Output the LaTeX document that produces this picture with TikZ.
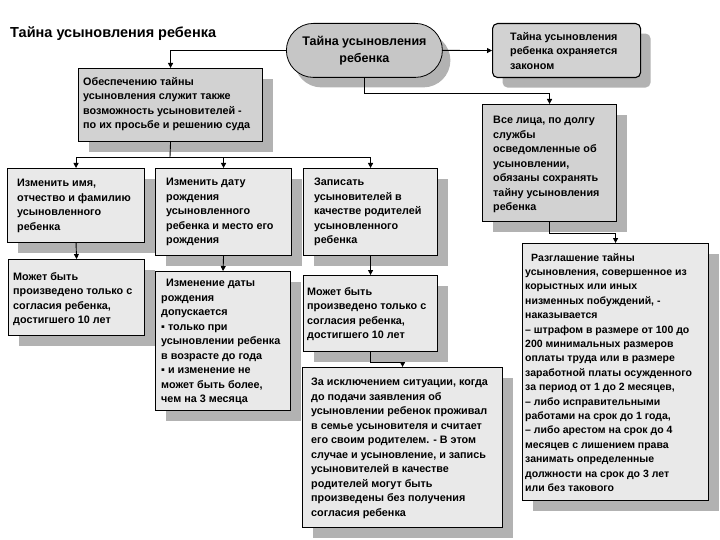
\documentclass[tikz,border=0pt]{standalone}
\usepackage{fontspec}
\setmainfont{Liberation Sans}
\usetikzlibrary{shadows,arrows.meta}
\definecolor{shgray}{HTML}{B2B2B2}
\definecolor{darkfill}{HTML}{D2D2D2}
\definecolor{lightfill}{HTML}{E9E9E9}
\definecolor{ovalfill}{HTML}{C6C6C6}
\begin{document}
\begin{tikzpicture}[x=1pt,y=-1pt,
  shadowed/.style={drop shadow={shadow xshift=10pt,shadow yshift=-10pt,fill=shgray,opacity=1}},
  box/.style={shadowed,draw=black,line width=1.1pt,anchor=north west,inner sep=0pt,fill=lightfill},
  darkbox/.style={box,fill=darkfill},
  txt/.style={anchor=north west,align=left,inner sep=0pt,font=\bfseries\fontsize{10.8}{14.5}\selectfont},
  arr/.style={line width=0.9pt,-{Triangle[width=5pt,length=5pt]}},
  ln/.style={line width=0.9pt}]
\useasboundingbox (0,0) rectangle (720,540);
% title
\node[anchor=north west,inner sep=0pt,font=\bfseries\fontsize{14.5}{17}\selectfont] (title) at (10,27) {Тайна усыновления ребенка};
% top oval
\node[drop shadow={shadow xshift=8pt,shadow yshift=-10pt,fill=shgray,opacity=1},draw=black,line width=0.8pt,fill=ovalfill,rounded corners=27pt,
  minimum width=156pt,minimum height=54pt,anchor=north west,inner sep=0pt,align=center,
  font=\bfseries\fontsize{12.5}{17}\selectfont] (st) at (286,23) {Тайна усыновления\\ребенка};
% right box
\node[darkbox,rounded corners=5pt,minimum width=148pt,minimum height=54pt] (rb) at (492,23) {};
\node[txt] (rbt) at (510,32) {Тайна усыновления\\ребенка охраняется\\законом};
% box 1
\node[darkbox,minimum width=184pt,minimum height=73pt] (b1) at (78,68) {};
\node[txt] (b1t) at (83,77) {Обеспечению тайны\\усыновления служит также\\возможность усыновителей -\\по их просьбе и решению суда};
% all persons
\node[darkbox,minimum width=134pt,minimum height=117pt] (all) at (482,104) {};
\node[txt] (allt) at (493,116) {Все лица, по долгу\\службы\\осведомленные об\\усыновлении,\\обязаны сохранять\\тайну усыновления\\ребенка};
% A, B, C
\node[box,minimum width=137pt,minimum height=74pt] (A) at (7,168) {};
\node[txt] (At) at (17,179) {Изменить имя,\\отчество и фамилию\\усыновленного\\ребенка};
\node[box,minimum width=136pt,minimum height=87pt] (B) at (155,168) {};
\node[txt] (Bt) at (166,178) {Изменить дату\\рождения\\усыновленного\\ребенка и место его\\рождения};
\node[box,minimum width=134pt,minimum height=87pt] (C) at (303,168) {};
\node[txt] (Ct) at (314,178) {Записать\\усыновителей в\\качестве родителей\\усыновленного\\ребенка};
% second row
\node[box,minimum width=136pt,minimum height=76pt] (A2) at (8,259) {};
\node[txt] (A2t) at (13,272) {Может быть\\произведено только с\\согласия ребенка,\\достигшего 10 лет};
\node[box,minimum width=135pt,minimum height=139pt] (B2) at (155,271) {};
\node[txt] (B2t) at (161,279) {\hspace*{5pt}Изменение даты\\рождения\\допускается\\▪ только при\\усыновлении ребенка\\в возрасте до года\\▪ и изменение не\\может быть более,\\чем на 3 месяца};
\node[box,minimum width=134pt,minimum height=76pt] (C2) at (303,275) {};
\node[txt] (C2t) at (307,287) {Может быть\\произведено только с\\согласия ребенка,\\достигшего 10 лет};
\node[box,minimum width=200pt,minimum height=160pt] (C3) at (302,367) {};
\node[txt] (C3t) at (311,378) {За исключением ситуации, когда\\до подачи заявления об\\усыновлении ребенок проживал\\в семье усыновителя и считает\\его своим родителем. - В этом\\случае и усыновление, и запись\\усыновителей в качестве\\родителей могут быть\\произведены без получения\\согласия ребенка};
% right bottom
\node[box,minimum width=186pt,minimum height=257pt] (r7) at (522,243) {};
\node[txt,font=\bfseries\fontsize{10.5}{14.4}\selectfont] (r7t) at (525,253) {\hspace*{6pt}Разглашение тайны\\усыновления, совершенное из\\корыстных или иных\\низменных побуждений, -\\наказывается\\– штрафом в размере от 100 до\\200 минимальных размеров\\оплаты труда или в размере\\заработной платы осужденного\\за период от 1 до 2 месяцев,\\– либо исправительными\\работами на срок до 1 года,\\– либо арестом на срок до 4\\месяцев с лишением права\\занимать определенные\\должности на срок до 3 лет\\или без такового};
% connectors
\draw[arr] (st.west) -| (b1.north);
\draw[arr] (st.east) -- (rb.west);
\draw[arr] (st.south) -- ++(0,16) -| (all.north);
\draw[arr] (all.south) -- ++(0,11) -| (r7.north);
\coordinate (j1) at (170,157);
\draw[ln] (b1.south) -- (j1);
\draw[arr] (j1) -| (A.north);
\draw[arr] (j1) -| (B.north);
\draw[arr] (j1) -| (C.north);
\draw[arr] (A.south) -- (A2.north);
\draw[arr] (B.south) -- (B2.north);
\draw[arr] (C.south) -- (C2.north);
\draw[arr] (C2.south) -- ++(0,10) -| (C3.north);
\end{tikzpicture}
\end{document}
